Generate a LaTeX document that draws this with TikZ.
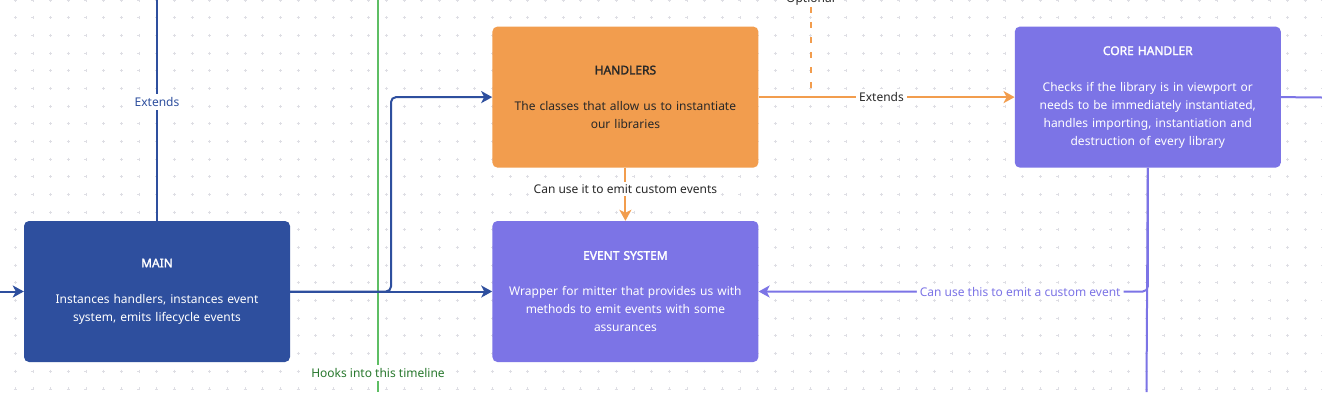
\documentclass[tikz,border=0pt]{standalone}
\usepackage{fontspec}
\setmainfont{Noto Sans}[AutoFakeBold=2]
\usepackage{tikz}
\usetikzlibrary{arrows.meta, positioning, calc}
\definecolor{mainblue}{RGB}{46,79,158}
\definecolor{hdlorange}{RGB}{242,157,78}
\definecolor{evpurple}{RGB}{124,116,230}
\definecolor{tlgreen}{RGB}{94,190,100}
\definecolor{tltext}{RGB}{40,120,45}
\definecolor{txtdark}{RGB}{40,40,40}
\definecolor{gridgray}{RGB}{222,222,228}
\tikzset{
  card/.style={rectangle, rounded corners=5pt, minimum width=266pt,
    minimum height=141pt, text width=250pt, align=center, inner sep=0pt,
    font=\fontsize{12}{18}\selectfont},
  bluecard/.style={card, fill=mainblue, text=white},
  orangecard/.style={card, fill=hdlorange, text=txtdark},
  purplecard/.style={card, fill=evpurple, text=white},
  tip/.style={-{Stealth[length=11pt, width=12pt, inset=3pt]}},
  blueline/.style={line width=2pt, color=mainblue},
  bluearrow/.style={blueline, tip},
  orangeline/.style={line width=2pt, color=hdlorange},
  orangearrow/.style={orangeline, tip},
  orangedash/.style={orangeline, dash pattern=on 6pt off 9pt},
  purpleline/.style={line width=2pt, color=evpurple},
  purplearrow/.style={purpleline, tip},
  greenline/.style={line width=2pt, color=tlgreen},
  edgelabel/.style={fill=white, inner sep=3pt, font=\fontsize{12}{14}\selectfont},
  bluelabel/.style={edgelabel, text=mainblue},
  darklabel/.style={edgelabel, text=txtdark},
  purplelabel/.style={edgelabel, text=evpurple},
  greenlabel/.style={edgelabel, text=tltext},
  gridplus/.style={line width=0.5pt, color=gridgray}
}

\begin{document}
\begin{tikzpicture}[x=1pt, y=-1pt]
  \useasboundingbox (0,0) rectangle (1322,392);
  \clip (0,0) rectangle (1322,392);
  \fill[white] (0,0) rectangle (1322,392);
  % dotted canvas
  \foreach \i in {0,...,74}{
    \foreach \j in {0,...,22}{
      \draw[gridplus] ({15.3+17.67*\i-1.5},{17.67*\j}) -- ++(3,0)
        ({15.3+17.67*\i},{17.67*\j-1.5}) -- ++(0,3);
    }
  }

  % cards
  \node[bluecard] (main) at (157,291.5)
    {\textbf{MAIN}\\[18pt]Instances handlers, instances event\\system, emits lifecycle events};
  \node[purplecard, right=202pt of main] (event)
    {\textbf{EVENT SYSTEM}\\[18pt]Wrapper for mitter that provides us with\\methods to emit events with some\\assurances};
  \node[orangecard, above=53pt of event] (handlers)
    {\textbf{HANDLERS}\\[18pt]The classes that allow us to instantiate\\our libraries};
  \node[purplecard, right=256pt of handlers] (core)
    {\textbf{CORE HANDLER}\\[18pt]Checks if the library is in viewport or\\needs to be immediately instantiated,\\handles importing, instantiation and\\destruction of every library};

  % free ends
  \coordinate (inL) at (0,291.5);
  \coordinate (extTop) at (157,0);
  \coordinate (fork) at (391,291.5);
  \coordinate (tlTop) at (378,0);
  \coordinate (tlBot) at (378,392);
  \coordinate (coreOut) at (1322,97.5);
  \coordinate (coreDown) at (1146.5,392);

  % timeline
  \draw[greenline] (tlTop) -- node[greenlabel, pos=0.9515] {Hooks into this timeline} (tlBot);

  % connectors
  \draw[bluearrow] (inL) -- (main.west);
  \draw[blueline] (main.north) -- node[bluelabel, pos=0.538] {Extends} (extTop);
  \draw[bluearrow] (main.east) -- (event.west);
  \draw[bluearrow, rounded corners=5pt] (main.east) -- (fork) |- (handlers.west);
  \draw[orangearrow] (handlers.east) -- node[darklabel, pos=0.48] {Extends} (core.west);
  \draw[orangearrow] (handlers.south) -- node[darklabel, pos=0.4] {Can use it to emit custom events} (event.north);
  \node[darklabel, anchor=base, inner sep=2pt] (opt) at (810.5,2) {Optional};
  \draw[orangedash] (opt.south) -- (opt.south |- handlers.east);
  \draw[purpleline] (core.east) -- (coreOut);
  \draw[purpleline] (core.south) -- (coreDown);
  \draw[purplearrow, rounded corners=5pt] (core.south) |- node[purplelabel, pos=0.664] {Can use this to emit a custom event} (event.east);
\end{tikzpicture}
\end{document}
